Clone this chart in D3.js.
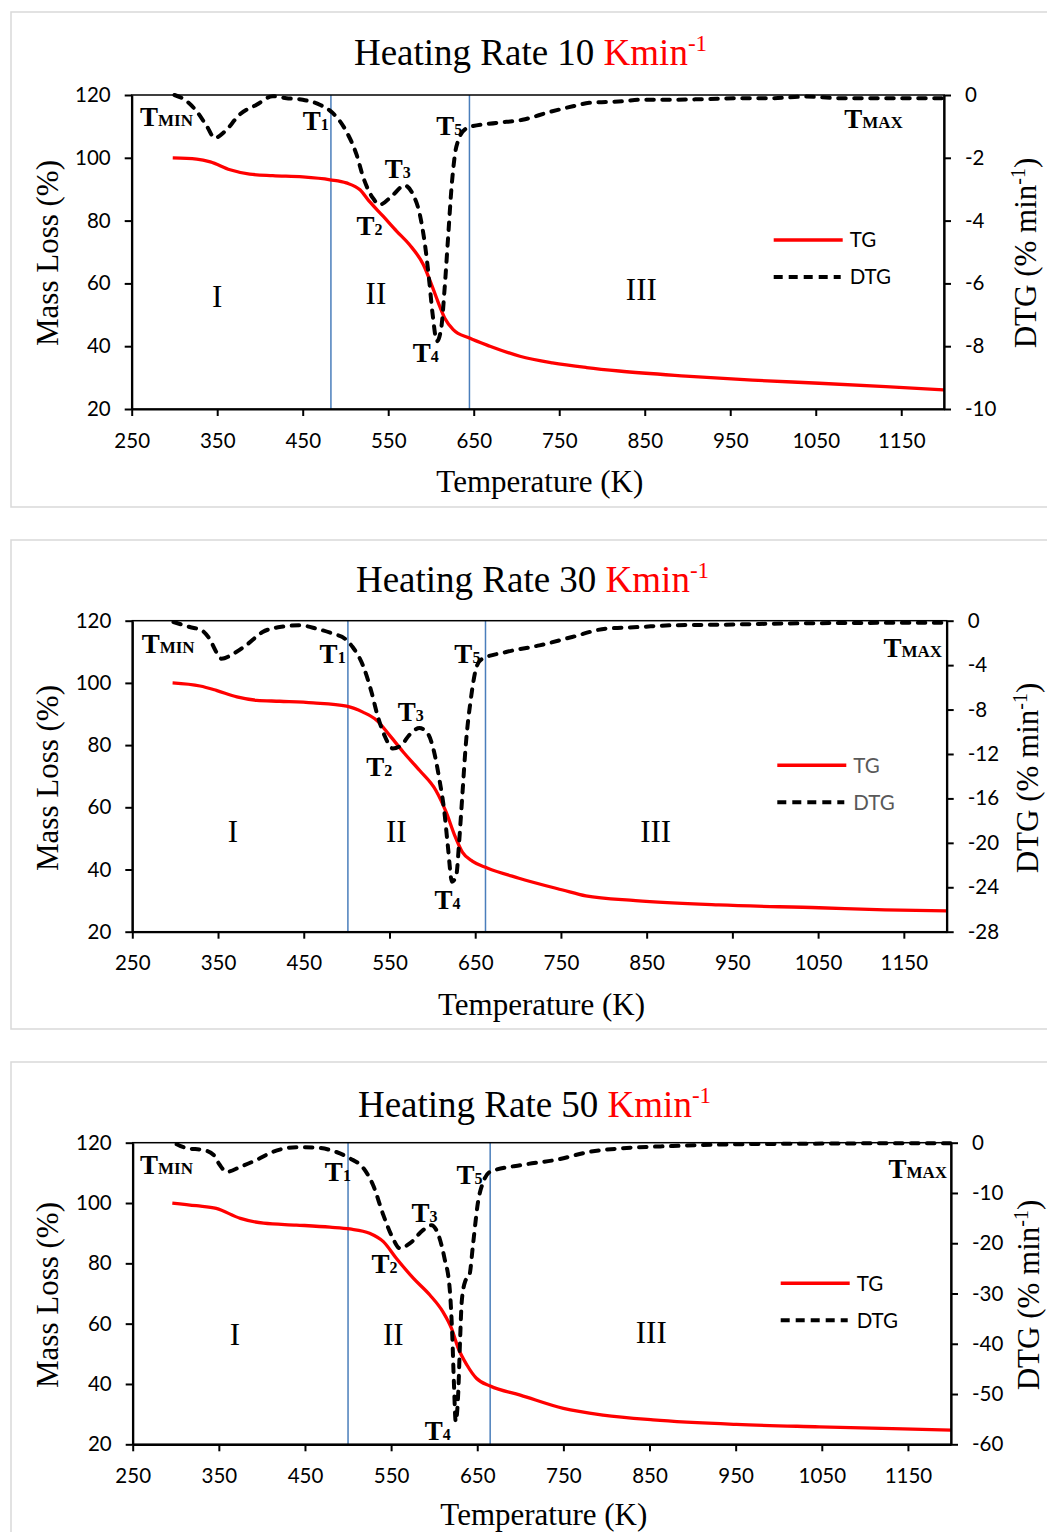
<!DOCTYPE html>
<html><head><meta charset="utf-8">
<script src="https://cdn.jsdelivr.net/npm/d3@7"></script>
<style>body{margin:0;background:#fff}</style>
</head><body><svg id="c" width="1047" height="1532"></svg>
<script>
// ---------------- DATA ----------------
const heatingRates = [10, 30, 50];
const tempTicks = [250, 350, 450, 550, 650, 750, 850, 950, 1050, 1150];
const massTicks = [20, 40, 60, 80, 100, 120];
const dtgTicks10 = [0, -2, -4, -6, -8, -10];
const dtgTicks30 = [0, -4, -8, -12, -16, -20, -24, -28];
const dtgTicks50 = [0, -10, -20, -30, -40, -50, -60];

// TG (mass %, left axis) vs temperature (K)
const tg10 = [[298,100],[326,99.6],[342,98.7],[365,96.2],[388,94.8],[415,94.3],[450,93.9],[482,93.0],[501,92.0],[517,89.8],[528,86.1],[544,81.4],[560,76.6],[575,72.3],[591,66.0],[600,60.1],[608,54.3],[616,49.0],[626,45.3],[645,42.6],[669,40.0],[704,36.8],[742,34.7],[782,33.2],[820,32.1],[898,30.5],[976,29.2],[1054,28.2],[1132,27.1],[1200,26.1]];
const tg30 = [[297,100],[329,99],[348,97.6],[372,95.5],[395,94.4],[422,94.1],[461,93.6],[500,92.5],[519,90.6],[535,88],[550,83.2],[566,77.8],[585,71.9],[604,65.5],[616,58.5],[626,51],[635,45.6],[647,42.6],[664,40.5],[701,37.2],[752,33.4],[779,31.5],[837,30],[934,28.6],[1051,27.7],[1128,27],[1200,26.7]];
const tg50 = [[296,100],[324,99.1],[347,98.2],[375,94.9],[402,93.3],[440,92.7],[479,92],[502,91.4],[525,90],[541,87.2],[556,81.7],[576,75],[595,69.5],[610,64],[620,58.5],[628,51.8],[638,46.3],[649,41.9],[665,39.3],[700,36.3],[750,31.9],[796,29.7],[854,28.1],[951,26.6],[1047,25.8],[1144,25.1],[1200,24.7]];

// DTG (% min-1, right axis) vs temperature (K)
const dtg10 = [[300,0],[312,-0.15],[326,-0.52],[338,-1.0],[347,-1.37],[359,-1.16],[376,-0.63],[396,-0.31],[415,-0.04],[431,-0.1],[450,-0.15],[470,-0.31],[485,-0.57],[501,-1.16],[513,-1.9],[521,-2.64],[532,-3.28],[540,-3.49],[556,-3.17],[569,-2.88],[579,-3.17],[587,-3.81],[593,-4.77],[598,-5.93],[602,-7.0],[607,-7.84],[612,-7.42],[616,-6.15],[620,-4.55],[624,-2.96],[628,-1.9],[633,-1.37],[641,-1.07],[645,-1.02],[676,-0.89],[707,-0.79],[739,-0.54],[766,-0.36],[785,-0.25],[824,-0.2],[844,-0.15],[882,-0.15],[922,-0.13],[961,-0.1],[1000,-0.1],[1038,-0.05],[1078,-0.1],[1116,-0.1],[1155,-0.1],[1200,-0.1]];
const dtg30 = [[298,-0.12],[317,-0.57],[331,-0.87],[340,-1.62],[348,-2.82],[354,-3.42],[368,-2.97],[383,-2.2],[402,-1.02],[422,-0.57],[445,-0.41],[465,-0.72],[484,-1.17],[498,-1.62],[507,-2.37],[519,-4.02],[529,-6.42],[536,-8.52],[544,-10.3],[554,-11.5],[564,-11.2],[573,-10.3],[585,-9.66],[595,-10.2],[602,-11.8],[608,-14.2],[614,-17.2],[618,-20.2],[623,-23.5],[628,-22.9],[631,-20.2],[635,-15.7],[639,-11.2],[645,-7.0],[651,-4.3],[657,-3.5],[686,-2.82],[725,-2.22],[763,-1.47],[802,-0.72],[841,-0.57],[880,-0.41],[938,-0.36],[996,-0.27],[1074,-0.21],[1200,-0.18]];
const dtg50 = [[301,-0.3],[313,-1.1],[332,-1.45],[344,-2.45],[351,-4.4],[359,-5.8],[375,-4.8],[394,-3.4],[413,-1.8],[440,-0.9],[464,-1.0],[483,-1.65],[502,-3.1],[518,-5.1],[529,-8.4],[541,-14.4],[552,-19],[560,-21],[572,-20],[587,-17.4],[597,-16.4],[605,-18.4],[612,-23],[618,-29],[621,-38.3],[623,-48.2],[625,-55.5],[628,-49.5],[630,-39.6],[632,-31.6],[636,-27.6],[641,-26.3],[645,-20.4],[651,-11.7],[657,-7.8],[665,-5.8],[703,-4.4],[742,-3.4],[781,-1.8],[819,-1.1],[877,-0.66],[955,-0.3],[1032,-0.2],[1109,-0.12],[1200,-0.1]];

// stage boundaries (K)
const stageBounds10 = [483, 645];
const stageBounds30 = [501.5, 662];
const stageBounds50 = [500, 665];

// stage labels: [text, T, mass-axis value]
const stages10 = [["I",350,52.5],["II",535.6,53.5],["III",846,54.6]];
const stages30 = [["I",367.4,49],["II",558,49],["III",860.5,49]];
const stages50 = [["I",368.8,53],["II",552.5,53],["III",852,53.5]];

// characteristic temperature labels: [main, sub, T, mass-axis value]
const marks10 = [["T","MIN",259.7,110.1],["T","1",450.1,108.9],["T","2",512.9,75.4],["T","3",545.9,93.6],["T","4",578.6,35.1],["T","5",606.3,107.3],["T","MAX",1083.3,109.5]];
const marks30 = [["T","MIN",260.9,109.5],["T","1",468.5,106.3],["T","2",522.9,70.1],["T","3",559.7,87.8],["T","4",602.4,27.2],["T","5",625.7,106.3],["T","MAX",1126.2,108.2]];
const marks50 = [["T","MIN",258.5,109.5],["T","1",473.1,107.3],["T","2",527.3,76.7],["T","3",573.7,93.6],["T","4",589.1,21.4],["T","5",625.9,106.2],["T","MAX",1127.3,108.4]];

// ---------------- LAYOUT ----------------
const panels = [
  {rate: heatingRates[0], tg: tg10, dtg: dtg10, dtgTicks: dtgTicks10, bounds: stageBounds10, stages: stages10, marks: marks10,
   frame:[11,12,1060,495], left:131.7, right:944, top:95, bottom:409, titleX:530.5, titleY:65,
   yLabX:47, yLabY:253, rLabX:1025, xLabY:492, legY:145, legX:642, legGray:false},
  {rate: heatingRates[1], tg: tg30, dtg: dtg30, dtgTicks: dtgTicks30, bounds: stageBounds30, stages: stages30, marks: marks30,
   frame:[11,540,1060,489], left:132.3, right:946.7, top:620.7, bottom:931.7, titleX:532.5, titleY:592,
   yLabX:47.5, yLabY:778, rLabX:1027, xLabY:1015, legY:144.6, legX:645, legGray:true},
  {rate: heatingRates[2], tg: tg50, dtg: dtg50, dtgTicks: dtgTicks50, bounds: stageBounds50, stages: stages50, marks: marks50,
   frame:[11,1062,1060,500], left:132.7, right:951, top:1142.7, bottom:1444.3, titleX:534.5, titleY:1117,
   yLabX:47.5, yLabY:1295, rLabX:1028, xLabY:1525, legY:140.6, legX:648, legGray:false}
];

const SERIF = "'Liberation Serif','Times New Roman',Times,serif";
const SANS = "Lato,'Open Sans','Liberation Sans',sans-serif";
const svg = d3.select("#c");
svg.append("rect").attr("width",1047).attr("height",1532).attr("fill","#fff");

panels.forEach(p => {
  const g = svg.append("g");
  g.append("rect").attr("x",p.frame[0]).attr("y",p.frame[1]).attr("width",p.frame[2]).attr("height",p.frame[3])
    .attr("fill","#fff").attr("stroke","#d9d9d9").attr("stroke-width",1.5);

  const x = d3.scaleLinear().domain([250,1200]).range([p.left,p.right]);
  const yM = d3.scaleLinear().domain([20,120]).range([p.bottom,p.top]);
  const yD = d3.scaleLinear().domain([d3.min(p.dtgTicks),0]).range([p.bottom,p.top]);

  // title
  const t = g.append("text").attr("x",p.titleX).attr("y",p.titleY).attr("text-anchor","middle")
    .attr("font-family",SERIF).attr("font-size",37).attr("fill","#000");
  t.append("tspan").text("Heating Rate " + p.rate + " ");
  t.append("tspan").attr("fill","#ff0000").text("Kmin");
  t.append("tspan").attr("fill","#ff0000").attr("font-size",23).attr("dy",-14).text("-1");

  // stage boundary lines
  g.selectAll(".bnd").data(p.bounds).enter().append("line")
    .attr("x1",d=>x(d)).attr("x2",d=>x(d)).attr("y1",p.top).attr("y2",p.bottom)
    .attr("stroke","#4a7ebb").attr("stroke-width",1.5);

  // TG curve
  g.append("path").datum(p.tg)
    .attr("d", d3.line().x(d=>x(d[0])).y(d=>yM(d[1])).curve(d3.curveMonotoneX))
    .attr("fill","none").attr("stroke","#ff0000").attr("stroke-width",3.3);

  // DTG curve
  g.append("path").datum(p.dtg)
    .attr("d", d3.line().x(d=>x(d[0])).y(d=>yD(d[1])).curve(d3.curveMonotoneX))
    .attr("fill","none").attr("stroke","#000").attr("stroke-width",4)
    .attr("stroke-dasharray","7.5,8.5").attr("stroke-linecap","round");

  // plot box
  g.append("rect").attr("x",p.left).attr("y",p.top).attr("width",p.right-p.left).attr("height",p.bottom-p.top)
    .attr("fill","none").attr("stroke","#000").attr("stroke-width",1.5);

  // axes
  const ax = (sel) => { sel.select(".domain").attr("stroke","#000").attr("stroke-width",2.2);
    sel.selectAll(".tick line").attr("stroke","#000").attr("stroke-width",2);
    sel.selectAll(".tick text").attr("font-family",SANS).attr("font-size",20.5).attr("fill","#000"); };
  g.append("g").attr("transform",`translate(0,${p.bottom})`)
    .call(d3.axisBottom(x).tickValues(tempTicks).tickSize(7).tickSizeOuter(0).tickPadding(17).tickFormat(d=>String(d)))
    .call(ax);
  g.append("g").attr("transform",`translate(${p.left},0)`)
    .call(d3.axisLeft(yM).tickValues(massTicks).tickSize(7).tickSizeOuter(0).tickPadding(14).tickFormat(d=>String(d)))
    .call(ax);
  g.append("g").attr("transform",`translate(${p.right},0)`)
    .call(d3.axisRight(yD).tickValues(p.dtgTicks).tickSize(7).tickSizeOuter(0).tickPadding(14).tickFormat(d=>String(d)))
    .call(ax);

  // axis titles
  g.append("text").attr("transform",`translate(${p.yLabX},${p.yLabY}) rotate(-90)`).attr("text-anchor","middle")
    .attr("dy","0.35em").attr("font-family",SERIF).attr("font-size",31).text("Mass Loss (%)");
  const rl = g.append("text").attr("transform",`translate(${p.rLabX},${p.yLabY}) rotate(-90)`).attr("text-anchor","middle")
    .attr("dy","0.35em").attr("font-family",SERIF).attr("font-size",31);
  rl.append("tspan").text("DTG (% min");
  rl.append("tspan").attr("font-size",20).attr("dy",-11).text("-1");
  rl.append("tspan").attr("dy",11).text(")");
  g.append("text").attr("x",(p.left+p.right)/2 + 2).attr("y",p.xLabY).attr("text-anchor","middle")
    .attr("font-family",SERIF).attr("font-size",31).text("Temperature (K)");

  // stage numerals
  g.selectAll(".stg").data(p.stages).enter().append("text")
    .attr("x",d=>x(d[1])).attr("y",d=>yM(d[2])).attr("text-anchor","middle")
    .attr("font-family",SERIF).attr("font-size",31).text(d=>d[0]);

  // characteristic temperature labels
  p.marks.forEach(m => {
    const tx = g.append("text").attr("x",x(m[2])).attr("y",yM(m[3]))
      .attr("font-family",SERIF).attr("font-weight","bold").attr("font-size",27).attr("fill","#000");
    tx.append("tspan").text(m[0]);
    tx.append("tspan").attr("font-size", m[1].length>1 ? 17 : 16).text(m[1]);
  });

  // legend
  const lx0 = p.left + p.legX, lx1 = lx0 + 69, ly = p.top + p.legY;
  const legColor = p.legGray ? "#595959" : "#000";
  g.append("line").attr("x1",lx0).attr("x2",lx1).attr("y1",ly).attr("y2",ly).attr("stroke","#ff0000").attr("stroke-width",3.5);
  g.append("text").attr("x",lx1+7).attr("y",ly).attr("dy","0.36em").attr("font-family",SANS).attr("font-size",20.5).attr("fill",legColor).text("TG");
  g.append("line").attr("x1",lx0).attr("x2",lx1-2).attr("y1",ly+37).attr("y2",ly+37).attr("stroke","#000").attr("stroke-width",4)
    .attr("stroke-dasharray","9,6");
  g.append("text").attr("x",lx1+7).attr("y",ly+37).attr("dy","0.36em").attr("font-family",SANS).attr("font-size",20.5).attr("fill",legColor).text("DTG");
});
</script></body></html>
